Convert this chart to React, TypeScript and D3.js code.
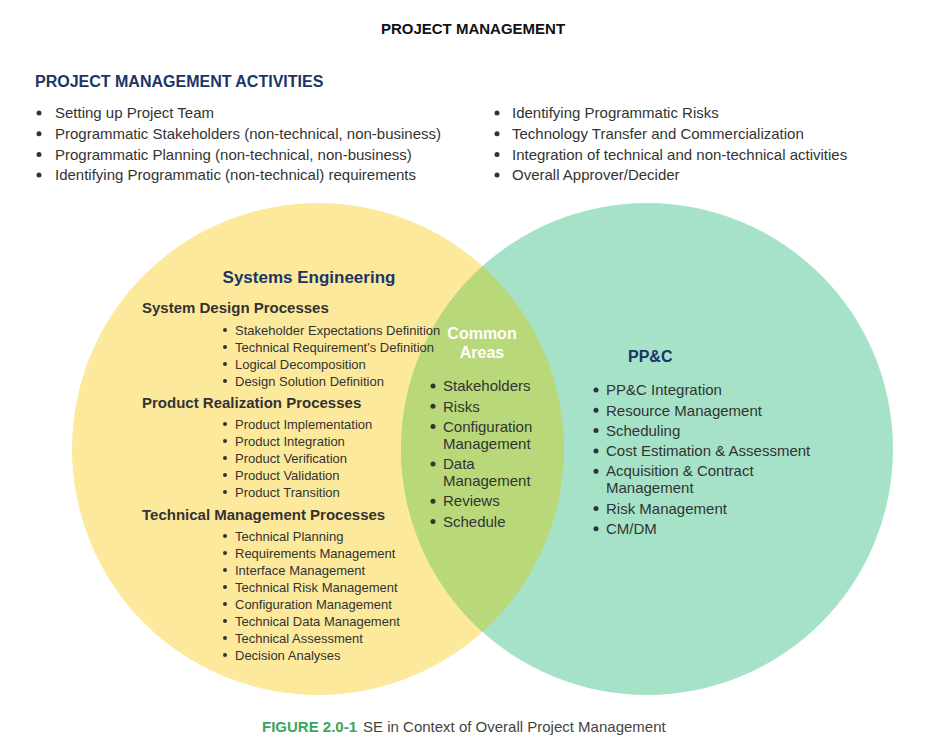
import React from "react";
import * as d3 from "d3";

const activitiesLeft = [
  "Setting up Project Team",
  "Programmatic Stakeholders (non-technical, non-business)",
  "Programmatic Planning (non-technical, non-business)",
  "Identifying Programmatic (non-technical) requirements",
];
const activitiesRight = [
  "Identifying Programmatic Risks",
  "Technology Transfer and Commercialization",
  "Integration of technical and non-technical activities",
  "Overall Approver/Decider",
];
const designItems = ["Stakeholder Expectations Definition", "Technical Requirement's Definition", "Logical Decomposition", "Design Solution Definition"];
const realizationItems = ["Product Implementation", "Product Integration", "Product Verification", "Product Validation", "Product Transition"];
const techItems = ["Technical Planning", "Requirements Management", "Interface Management", "Technical Risk Management", "Configuration Management", "Technical Data Management", "Technical Assessment", "Decision Analyses"];
const commonItems = [["Stakeholders"], ["Risks"], ["Configuration", "Management"], ["Data", "Management"], ["Reviews"], ["Schedule"]];
const ppcItems = [["PP&C Integration"], ["Resource Management"], ["Scheduling"], ["Cost Estimation & Assessment"], ["Acquisition & Contract", "Management"], ["Risk Management"], ["CM/DM"]];

const SANS = "Helvetica, Arial, 'Liberation Sans', sans-serif";
const NARROW = "'Liberation Sans Narrow', 'Arial Narrow', sans-serif";
const NAVY = "#1c3466";
const DARK = "#333";

const cx = d3.scaleLinear().domain([0, 1]).range([318, 647]);
const R = 246, CY = 449;

function BulletList({ items, x, y0, step, lineStep, size, font, dx, dot }: any) {
  let y = y0;
  const out: any[] = [];
  items.forEach((it: any, i: number) => {
    const lines = Array.isArray(it) ? it : [it];
    out.push(<circle key={"d" + i} cx={x} cy={y} r={dot} fill={DARK} />);
    lines.forEach((l: string, j: number) => {
      out.push(
        <text key={i + "-" + j} x={x + dx} y={y + j * lineStep} dy="0.35em" fontSize={size} fontFamily={font} fill={DARK}>{l}</text>
      );
    });
    y += step + (lines.length - 1) * lineStep;
  });
  return <g>{out}</g>;
}

export default function App() {
  return (
    <svg width={945} height={747} style={{ position: "absolute", left: 0, top: 0 }}>
      <rect width={945} height={747} fill="#fff" />
      <defs>
        <clipPath id="cl"><circle cx={cx(0)} cy={CY} r={R} /></clipPath>
      </defs>
      <text x={473} y={29} dy="0.35em" textAnchor="middle" fontSize={15} fontWeight="bold" fontFamily={SANS} fill="#111">PROJECT MANAGEMENT</text>
      <text x={35} y={81} dy="0.35em" fontSize={16} fontWeight="bold" fontFamily={NARROW} fill={NAVY}>PROJECT MANAGEMENT ACTIVITIES</text>
      <BulletList items={activitiesLeft} x={39} y0={113} step={20.7} lineStep={0} size={15} font={SANS} dx={16} dot={2.5} />
      <BulletList items={activitiesRight} x={497} y0={113} step={20.7} lineStep={0} size={15} font={SANS} dx={15} dot={2.5} />

      <circle cx={cx(0)} cy={CY} r={R} fill="#fde99b" />
      <circle cx={cx(1)} cy={CY} r={R} fill="#a5e2c8" />
      <circle cx={cx(1)} cy={CY} r={R} fill="#b9d87a" clipPath="url(#cl)" />

      <text x={309} y={277} dy="0.35em" textAnchor="middle" fontSize={17} fontWeight="bold" fontFamily={SANS} fill={NAVY}>Systems Engineering</text>
      <text x={142} y={308} dy="0.35em" fontSize={15} fontWeight="bold" fontFamily={SANS} fill={DARK}>System Design Processes</text>
      <BulletList items={designItems} x={225} y0={330} step={17} lineStep={0} size={13} font={NARROW} dx={10} dot={2} />
      <text x={142} y={403} dy="0.35em" fontSize={15} fontWeight="bold" fontFamily={SANS} fill={DARK}>Product Realization Processes</text>
      <BulletList items={realizationItems} x={225} y0={424} step={17} lineStep={0} size={13} font={NARROW} dx={10} dot={2} />
      <text x={142} y={515} dy="0.35em" fontSize={15} fontWeight="bold" fontFamily={SANS} fill={DARK}>Technical Management Processes</text>
      <BulletList items={techItems} x={225} y0={536} step={17} lineStep={0} size={13} font={NARROW} dx={10} dot={2} />

      <text x={482} y={333} dy="0.35em" textAnchor="middle" fontSize={16} fontWeight="bold" fontFamily={SANS} fill="#fff">Common</text>
      <text x={482} y={352} dy="0.35em" textAnchor="middle" fontSize={16} fontWeight="bold" fontFamily={SANS} fill="#fff">Areas</text>
      <BulletList items={commonItems} x={433} y0={386} step={20.3} lineStep={17} size={15} font={SANS} dx={10} dot={2.5} />

      <text x={628} y={356} dy="0.35em" fontSize={16} fontWeight="bold" fontFamily={SANS} fill={NAVY}>PP&amp;C</text>
      <BulletList items={ppcItems} x={596} y0={390} step={20.3} lineStep={17} size={15} font={SANS} dx={10} dot={2.5} />

      <text x={262} y={727} dy="0.35em" fontSize={15} fontFamily={SANS}>
        <tspan fontWeight="bold" fill="#3aa65b">FIGURE 2.0-1</tspan>
        <tspan fill="#444" dx={6}>SE in Context of Overall Project Management</tspan>
      </text>
    </svg>
  );
}
